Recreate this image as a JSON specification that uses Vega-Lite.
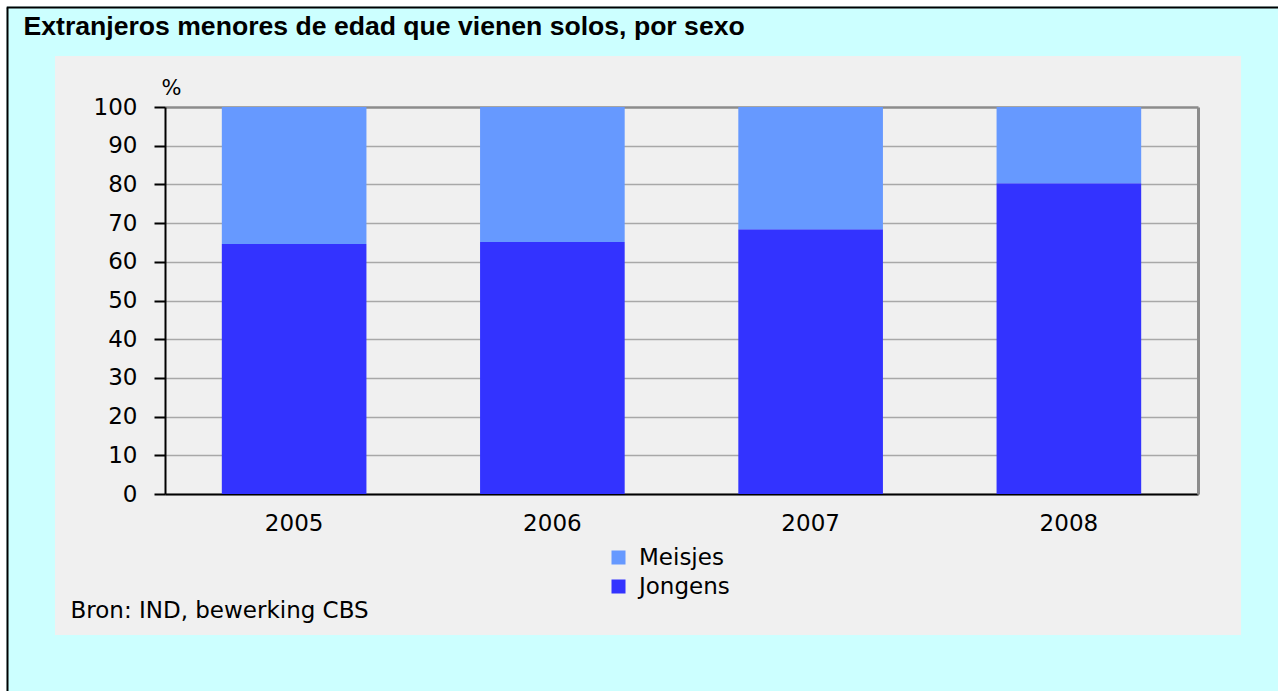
{
  "$schema": "https://vega.github.io/schema/vega-lite/v6.json",
  "autosize": {"type": "none"},
  "padding": {"left": 55, "top": 56, "right": 37, "bottom": 56},
  "width": 1186,
  "height": 579,
  "background": "#CCFFFF",
  "config": {
    "font": "DejaVu Sans",
    "view": {"fill": "#F0F0F0", "stroke": null},
    "axis": {"labelColor": "#000000", "titleColor": "#000000"}
  },
  "data": {
    "values": [
      {"year": "2005", "sex": "Jongens", "pct": 64.6},
      {"year": "2005", "sex": "Meisjes", "pct": 35.4},
      {"year": "2006", "sex": "Jongens", "pct": 65.1},
      {"year": "2006", "sex": "Meisjes", "pct": 34.9},
      {"year": "2007", "sex": "Jongens", "pct": 68.4},
      {"year": "2007", "sex": "Meisjes", "pct": 31.6},
      {"year": "2008", "sex": "Jongens", "pct": 80.3},
      {"year": "2008", "sex": "Meisjes", "pct": 19.7}
    ]
  },
  "resolve": {
    "scale": {"x": "independent", "y": "independent"},
    "axis": {"x": "independent", "y": "independent"}
  },
  "layer": [
    {
      "mark": {"type": "point", "opacity": 0},
      "encoding": {
        "x": {"field": "year", "type": "nominal",
          "scale": {"type": "point", "range": [-60, 1240], "padding": 0},
          "axis": {"orient": "top", "offset": 56, "domainColor": "#FFFFFF", "domainWidth": 12, "ticks": false, "labels": false, "grid": false, "title": null}},
        "y": {"field": "pct", "type": "quantitative",
          "scale": {"domain": [0, 100], "range": [650, -60], "nice": false},
          "axis": {"orient": "left", "offset": 55, "domainColor": "#FFFFFF", "domainWidth": 12, "ticks": false, "labels": false, "grid": false, "title": null}}
      }
    },
    {
      "mark": {"type": "point", "opacity": 0},
      "encoding": {
        "x": {"field": "year", "type": "nominal",
          "scale": {"type": "point", "range": [-49, 1240], "padding": 0},
          "axis": {"orient": "top", "offset": 49, "domainColor": "#000000", "domainWidth": 2, "ticks": false, "labels": false, "grid": false,
            "title": "Extranjeros menores de edad que vienen solos, por sexo",
            "titleFont": "Liberation Sans", "titleFontWeight": "bold", "titleFontSize": 26.6,
            "titleX": -32, "titleY": 27, "titleAlign": "left", "titleBaseline": "alphabetic", "titleAngle": 0}},
        "y": {"field": "pct", "type": "quantitative",
          "scale": {"domain": [0, 100], "range": [650, -49], "nice": false},
          "axis": {"orient": "left", "offset": 48, "domainColor": "#000000", "domainWidth": 2, "ticks": false, "labels": false, "grid": false, "title": null}}
      }
    },
    {
      "mark": {"type": "point", "opacity": 0},
      "encoding": {
        "y": {"field": "pct", "type": "quantitative",
          "scale": {"domain": [0, 100], "range": [438, 51], "nice": false},
          "axis": {"orient": "right", "offset": -43, "domainColor": "#8C8C8C", "domainWidth": 3, "ticks": false, "labels": false, "grid": false, "title": null}}
      }
    },
    {
      "mark": {"type": "bar"},
      "encoding": {
        "x": {"field": "year", "type": "ordinal",
          "scale": {"range": [110, 1143], "paddingInner": 0.44, "paddingOuter": 0.22},
          "axis": {"orient": "bottom", "offset": -141, "domainColor": "#000000", "domainWidth": 2, "ticks": false, "grid": false,
            "labelAngle": 0, "labelFontSize": 23, "labelPadding": 18,
            "title": "Bron: IND, bewerking CBS", "titleFontSize": 23, "titleFontWeight": "normal",
            "titleX": 15, "titleY": 123, "titleAlign": "left", "titleBaseline": "alphabetic", "titleAngle": 0}},
        "y": {"field": "pct", "type": "quantitative", "stack": "zero",
          "scale": {"domain": [0, 100], "range": [438, 51], "nice": false},
          "axis": {"orient": "left", "offset": -110, "values": [0, 10, 20, 30, 40, 50, 60, 70, 80, 90, 100],
            "grid": true,
            "gridColor": {"condition": {"test": "datum.value === 100", "value": "#8C8C8C"}, "value": "#A8A8A8"},
            "gridWidth": {"condition": {"test": "datum.value === 100", "value": 2.5}, "value": 1.5},
            "domainColor": "#000000", "domainWidth": 2, "tickColor": "#000000", "tickWidth": 2, "tickSize": 11,
            "labelFontSize": 23, "labelPadding": 17,
            "title": "%", "titleFontSize": 21, "titleFontWeight": "normal", "titleAngle": 0,
            "titleX": 6, "titleY": 38, "titleAlign": "center", "titleBaseline": "alphabetic"}},
        "color": {"field": "sex", "type": "nominal",
          "scale": {"domain": ["Meisjes", "Jongens"], "range": ["#6699FF", "#3333FF"]},
          "legend": {"orient": "none", "legendX": 552, "legendY": 490, "direction": "vertical", "title": null,
            "symbolType": "square", "symbolSize": 196, "symbolStrokeWidth": 0, "symbolOpacity": 1,
            "labelFontSize": 23, "labelColor": "#000000", "labelOffset": 9, "rowPadding": 5, "padding": 0}},
        "order": {"field": "sex", "sort": "ascending"}
      }
    }
  ]
}
